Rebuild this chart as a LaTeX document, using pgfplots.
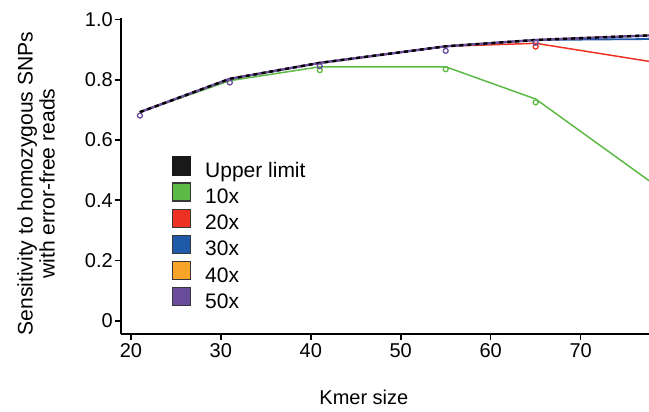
\documentclass[border=0pt]{standalone}
\usepackage{pgfplots}
\pgfplotsset{compat=1.18}
\usepackage{fontspec}
\setmainfont{Liberation Sans}
\newcommand{\fs}{\fontsize{20}{24}\selectfont}
\definecolor{cgreen}{RGB}{94,186,71}
\definecolor{cred}{RGB}{237,50,36}
\definecolor{cblue}{RGB}{30,90,168}
\definecolor{corange}{RGB}{247,164,41}
\definecolor{cpurple}{RGB}{106,76,156}
\definecolor{cborder}{RGB}{55,55,55}
\begin{document}
\begin{tikzpicture}
\useasboundingbox (-121pt,-78pt) rectangle (528pt,334pt);
\begin{axis}[
  scale only axis, width=528pt, height=316pt,
  xmin=18.9, xmax=77.6, ymin=-0.044, ymax=1.005,
  axis x line*=bottom, axis y line*=left,
  axis line style={line width=1.6pt, black},
  xtick={20,30,40,50,60,70},
  ytick={0,0.2,0.4,0.6,0.8,1.0},
  yticklabels={0,0.2,0.4,0.6,0.8,1.0},
  tick align=outside, major tick length=6pt,
  tick style={line width=1.6pt, black},
  /pgf/number format/assume math mode=true,
  tick label style={font=\fs},
  yticklabel style={inner sep=2pt},
  label style={font=\fs},
  xlabel={Kmer size},
  xlabel style={at={(axis description cs:0.46,-0.2)}, anchor=center},
  ylabel={Sensitivity to homozygous SNPs\\with error-free reads},
  ylabel style={at={(axis description cs:-0.161,0.476)}, anchor=center, align=center, font=\fontsize{21.1}{22}\selectfont},
  legend style={font=\fontsize{21}{24}\selectfont, draw=none, fill=none, at={(axis description cs:0.096,0.563)}, anchor=north west,
    inner sep=0pt, row sep=1pt, nodes={inner sep=0pt, text height=15pt, text depth=4pt}},
  legend cell align=left,
  /tikz/every odd column/.append style={column sep=14pt},
  legend image code/.code={\draw[#1, line width=1.3pt] (0pt,-3pt) rectangle (18pt,15pt);},
  clip=true,
]
\addlegendimage{fill=black!90, draw=black!90}
\addlegendentry{Upper limit}
\addlegendimage{fill=cgreen, draw=cborder}
\addlegendentry{10x}
\addlegendimage{fill=cred, draw=cborder}
\addlegendentry{20x}
\addlegendimage{fill=cblue, draw=cborder}
\addlegendentry{30x}
\addlegendimage{fill=corange, draw=cborder}
\addlegendentry{40x}
\addlegendimage{fill=cpurple, draw=cborder}
\addlegendentry{50x}

\addplot[forget plot, cgreen, line width=1.5pt] coordinates {(21,0.6925) (31,0.797) (41,0.843) (55,0.843) (65,0.736) (85,0.306)};
\addplot[forget plot, cred, line width=1.5pt] coordinates {(21,0.6925) (31,0.803) (41,0.856) (55,0.911) (65,0.921) (85,0.826)};
\addplot[forget plot, cblue, line width=1.8pt] coordinates {(21,0.6925) (31,0.803) (41,0.856) (55,0.911) (65,0.932) (85,0.937)};
\addplot[forget plot, corange, line width=1.8pt] coordinates {(21,0.6925) (31,0.803) (41,0.856) (55,0.911) (65,0.932) (85,0.956)};
\addplot[forget plot, cpurple, line width=2.4pt] coordinates {(21,0.6925) (31,0.803) (41,0.856) (55,0.911) (65,0.932) (85,0.956)};
\addplot[forget plot, black, line width=2.4pt, dash pattern=on 4pt off 4pt] coordinates {(21,0.6925) (31,0.803) (41,0.856) (55,0.911) (65,0.932) (85,0.956)};

\addplot[forget plot, only marks, mark=o, mark size=2.5pt, cgreen, line width=1.3pt] coordinates {(41,0.832) (55,0.835) (65,0.725)};
\addplot[forget plot, only marks, mark=o, mark size=2.5pt, cred, line width=1.3pt] coordinates {(65,0.910)};
\addplot[forget plot, only marks, mark=o, mark size=2.5pt, cpurple, line width=1.3pt] coordinates {(21,0.681) (31,0.791) (41,0.845) (55,0.896) (65,0.923)};
\end{axis}
\end{tikzpicture}
\end{document}
